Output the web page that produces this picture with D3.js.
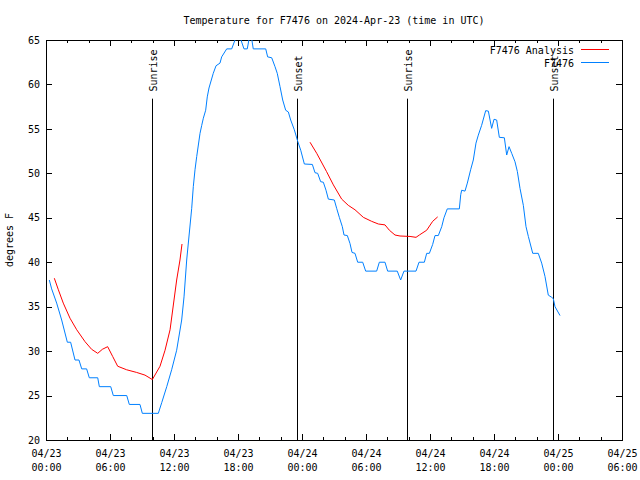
<!DOCTYPE html>
<html>
<head>
<meta charset="utf-8">
<script src="https://cdn.jsdelivr.net/npm/d3@7"></script>
<style>
  html, body { margin: 0; padding: 0; background: #fff; }
  svg { display: block; }
  text { font-family: "DejaVu Sans Mono", monospace; font-size: 10px; fill: #000; }
</style>
</head>
<body>
<svg id="chart" width="640" height="480"></svg>
<script>
// ---------- data (hours since 2024-04-23 00:00 UTC, degrees F) ----------
const titleText = "Temperature for F7476 on 2024-Apr-23 (time in UTC)";
const yLabel = "degrees F";
const seriesNames = ["F7476 Analysis", "F7476"];
const seriesColors = ["#ff0000", "#0080ff"];

const obsHours = [0.31,0.53,1.0,1.47,2.0,2.31,2.72,3.09,3.35,3.81,4.06,4.85,5.0,6.07,6.31,7.57,7.81,8.81,9.03,10.53,
  10.85,11.32,11.78,12.25,12.72,12.94,13.19,13.66,13.81,13.97,14.13,14.44,14.6,14.75,14.97,15.12,15.28,15.68,15.94,
  16.31,16.47,16.94,17.41,17.72,17.88,18.0,18.56,18.87,19.17,19.43,20.6,20.78,21.16,21.47,21.68,21.94,22.19,22.47,
  22.72,22.94,23.28,23.6,23.88,24.22,24.97,25.22,25.47,25.75,26.0,26.25,26.47,27.03,27.25,27.5,27.78,27.94,28.25,
  28.5,28.69,28.97,29.22,29.69,29.97,31.0,31.25,31.78,32.03,32.93,33.25,33.56,34.69,34.97,35.47,35.69,35.94,36.25,
  36.47,36.78,37.1,37.31,37.62,38.75,38.88,38.97,39.28,39.5,39.81,40.06,40.31,40.53,40.84,41.22,41.47,41.78,42.0,
  42.25,42.5,42.97,43.19,43.41,43.66,43.97,44.19,44.44,44.75,45.0,45.22,45.63,46.15,46.47,46.78,47.09,47.41,47.56,
  47.72,48.19];
const obsTemps = [38,37,35.4,33.5,31,31,29,29,28,28,27,27,26,26,25,25,24,24,23,23,
  24.2,26,27.9,30.1,33.5,36.1,40.25,46.07,48.5,50.4,51.9,54.5,55.4,56.2,57.1,58.6,59.6,61.25,62.1,
  62.4,63.1,64,64,65,66,66,64,64,66,64,64,63.1,63,62,61.25,59.75,58.25,57.1,
  56.9,56,54.9,53.6,52.6,51.05,51,50.07,50,49.06,49,48.1,47.1,47,46.06,45.05,44,43.06,43,
  42.1,41.1,41,40,40,39,39,40,40,39,39,38,39,39,40,40,41,41,42,
  43,43,44,45,46,46,47.6,48.1,48,48.9,50.4,51.5,53.4,54.3,55.4,57.05,57,55.06,56.08,
  56,54.05,54,52.06,53,52.25,51.3,50.2,48.3,46.4,44,42.9,41,41,39.9,38.4,36.3,36.05,35.9,
  35,34];

// analysis series: null marks a gap between the two runs
const anaHours = [0.78,1.16,1.62,2.25,2.88,3.66,4.28,4.85,5.28,5.78,6.25,6.72,7.56,8.5,9.28,9.97,10.69,11.16,11.63,12.25,12.56,12.75,
  null,
  24.75,25.38,26.3,26.94,27.72,28.34,28.97,29.75,30.53,31.16,31.78,32.19,32.72,33.19,34.13,34.69,35.0,35.69,36.25,36.72];
const anaTemps = [38.2,36.9,35.4,33.7,32.4,31.06,30.2,29.75,30.2,30.5,29.4,28.3,27.9,27.6,27.3,26.8,28.3,30.1,32.4,38,40.25,42.05,
  null,
  53.5,52.25,50.2,48.7,47.1,46.4,45.9,45.05,44.6,44.3,44.2,43.6,43.06,42.95,42.9,42.8,43.06,43.6,44.6,45.1];

const eventNames = ["Sunrise", "Sunset", "Sunrise", "Sunset"];
const eventHours = [9.97, 23.56, 33.87, 47.56];
const eventTopTemp = 58.4;
const eventLabelTemp = 59.2;

const yTicks = [20, 25, 30, 35, 40, 45, 50, 55, 60, 65];
const yDomain = [20, 65];
const startTime = Date.UTC(2024, 3, 23, 0, 0);
const endTime = Date.UTC(2024, 3, 25, 6, 0);

// ---------- layout ----------
const L = 46, R = 622, T = 40, B = 440;
const toDate = h => new Date(startTime + h * 3600e3);

const svg = d3.select("#chart");
const x = d3.scaleUtc().domain([new Date(startTime), new Date(endTime)]).range([L, R]);
const y = d3.scaleLinear().domain(yDomain).range([B, T]);

const major = x.ticks(d3.utcHour.every(6));
const minor = x.ticks(d3.utcHour.every(2)).filter(d => d.getUTCHours() % 6 !== 0);

svg.append("defs").append("clipPath").attr("id", "clip")
  .append("rect").attr("x", L).attr("y", T).attr("width", R - L).attr("height", B - T);

// axes
function styleAxis(g) {
  g.select(".domain").remove();
  g.selectAll(".tick line").attr("stroke", "#000").attr("shape-rendering", "crispEdges");
  g.selectAll("text").attr("font-family", null).attr("font-size", null);
}
const fmtDate = d3.utcFormat("%m/%d"), fmtTime = d3.utcFormat("%H:%M");

const gx = svg.append("g").attr("transform", `translate(0,${B})`)
  .call(d3.axisBottom(x).tickValues(major).tickSize(-6).tickFormat(""));
styleAxis(gx);
gx.selectAll(".tick text").attr("dy", null).each(function(d) {
  const t = d3.select(this);
  t.text(null).attr("text-anchor", "middle");
  t.append("tspan").attr("x", 0).attr("y", 17).text(fmtDate(d));
  t.append("tspan").attr("x", 0).attr("y", 31).text(fmtTime(d));
});
styleAxis(svg.append("g").attr("transform", `translate(0,${B})`)
  .call(d3.axisBottom(x).tickValues(minor).tickSize(-3).tickFormat("")));
styleAxis(svg.append("g").attr("transform", `translate(0,${T})`)
  .call(d3.axisTop(x).tickValues(major).tickSize(-6).tickFormat("")));
styleAxis(svg.append("g").attr("transform", `translate(0,${T})`)
  .call(d3.axisTop(x).tickValues(minor).tickSize(-3).tickFormat("")));

const gy = svg.append("g").attr("transform", `translate(${L},0)`)
  .call(d3.axisLeft(y).tickValues(yTicks).tickSize(-6).tickPadding(6));
styleAxis(gy);
styleAxis(svg.append("g").attr("transform", `translate(${R},0)`)
  .call(d3.axisRight(y).tickValues(yTicks).tickSize(-6).tickFormat("")));

// frame
svg.append("rect").attr("x", L).attr("y", T).attr("width", R - L).attr("height", B - T)
  .attr("fill", "none").attr("stroke", "#000").attr("shape-rendering", "crispEdges");

// sunrise / sunset markers
eventHours.forEach((h, i) => {
  const xx = Math.round(x(toDate(h))) + 0.5;
  svg.append("line").attr("x1", xx).attr("x2", xx)
    .attr("y1", y(eventTopTemp)).attr("y2", y(yDomain[0]))
    .attr("stroke", "#000").attr("stroke-width", 1);
  svg.append("text")
    .attr("transform", `translate(${xx + 4},${y(eventLabelTemp)}) rotate(-90)`)
    .attr("text-anchor", "start")
    .text(eventNames[i]);
});

// lines
const plot = svg.append("g").attr("clip-path", "url(#clip)");
const line = d3.line()
  .defined(d => d[0] !== null)
  .x(d => x(toDate(d[0]))).y(d => y(d[1]));

const anaData = anaHours.map((h, i) => [h, anaTemps[i]]);
const obsData = obsHours.map((h, i) => [h, obsTemps[i]]);

plot.append("path").datum(anaData).attr("d", line)
  .attr("fill", "none").attr("stroke", seriesColors[0]).attr("stroke-width", 1);
plot.append("path").datum(obsData).attr("d", line)
  .attr("fill", "none").attr("stroke", seriesColors[1]).attr("stroke-width", 1);

// legend
seriesNames.forEach((name, i) => {
  const ly = 49.5 + i * 13;
  svg.append("text").attr("x", 574).attr("y", ly + 4).attr("text-anchor", "end").text(name);
  svg.append("line").attr("x1", 581).attr("x2", 609).attr("y1", ly).attr("y2", ly)
    .attr("stroke", seriesColors[i]).attr("stroke-width", 1);
});

// title & y label
svg.append("text").attr("x", (L + R) / 2).attr("y", 24).attr("text-anchor", "middle").text(titleText);
svg.append("text").attr("transform", `translate(13,${(T + B) / 2}) rotate(-90)`)
  .attr("text-anchor", "middle").text(yLabel);
</script>
</body>
</html>
